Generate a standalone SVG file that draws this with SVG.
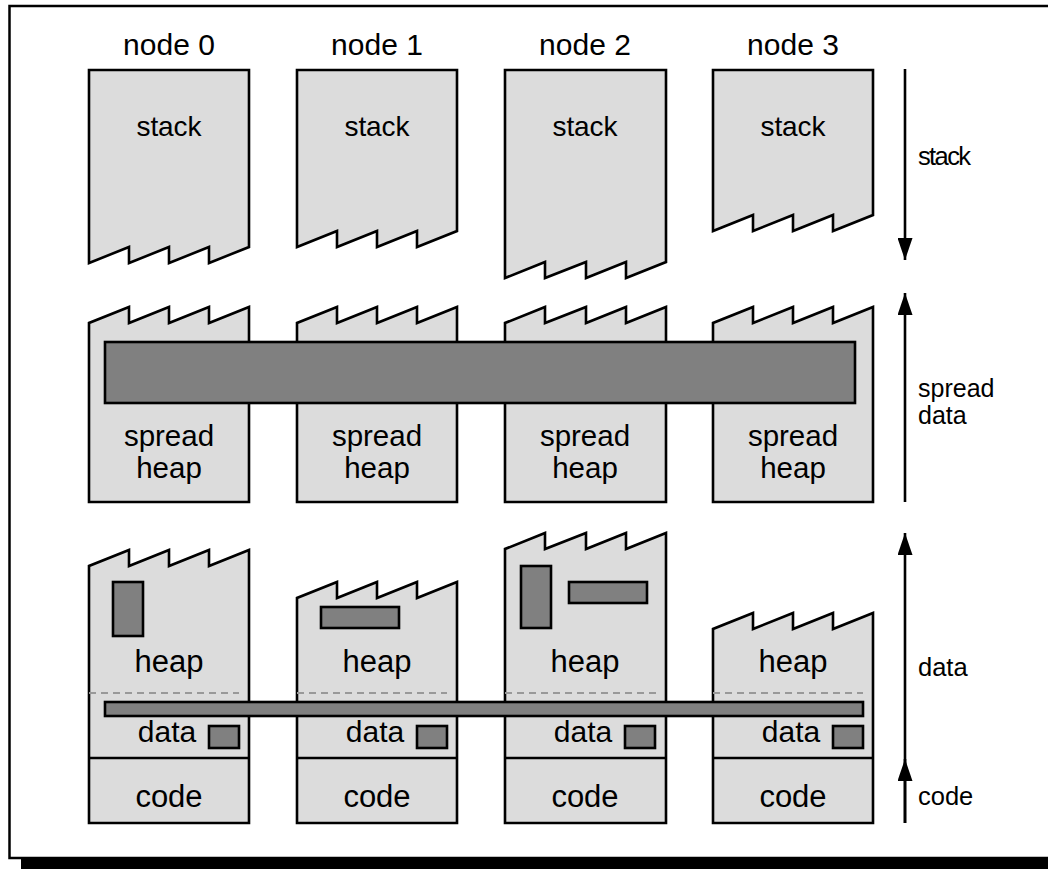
<svg xmlns="http://www.w3.org/2000/svg" width="1048" height="869" viewBox="0 0 1048 869">
  <style>
    .seg { fill: #dcdcdc; stroke: #000; stroke-width: 2.6; stroke-linejoin: miter; }
    .blk { fill: #808080; stroke: #000; stroke-width: 2.6; }
    .div { fill: none; stroke: #000; stroke-width: 2.6; }
    .dash { fill: none; stroke: #999; stroke-width: 2; stroke-dasharray: 7 5; }
    .t { font-family: "Liberation Sans", Arial, sans-serif; fill: #000; text-anchor: middle; }
    .big { font-size: 31px; }
    .mid { font-size: 30px; }
    .sh { font-size: 29.5px; }
    .head { font-size: 28px; }
    .side { font-family: "Liberation Sans", Arial, sans-serif; font-size: 25.5px; fill: #000; }
    .side2 { font-size: 25px; }
    .axis { stroke: #000; stroke-width: 2.6; fill: none; }
  </style>
  <defs>
    <marker id="tip" markerWidth="22" markerHeight="15" refX="22" refY="7.5" orient="auto" markerUnits="userSpaceOnUse" viewBox="0 0 22 15">
      <path d="M0,0 L22,7.5 L0,15 Z" fill="#000"/>
    </marker>
  </defs>

  <!-- page frame with drop shadow -->
  <rect x="21" y="859" width="1100" height="12" fill="#000"/>
  <rect x="9.5" y="6" width="1100" height="852" fill="#fff" stroke="#000" stroke-width="2.5"/>

  <!-- column headings -->
  <g id="headings">
    <text class="t mid" x="169" y="55">node 0</text>
    <text class="t mid" x="377" y="55">node 1</text>
    <text class="t mid" x="585" y="55">node 2</text>
    <text class="t mid" x="793" y="55">node 3</text>
  </g>

  <!-- stack segments: torn at the bottom, growing downwards -->
  <g id="stack0">
    <path class="seg" d="M89,70 H249 V247 L209,263 V247 L169,263 V247 L129,263 V247 L89,263 Z"/>
    <text class="t head" x="169" y="136" textLength="65">stack</text>
  </g>
  <g id="stack1">
    <path class="seg" d="M297,70 H457 V231 L417,247 V231 L377,247 V231 L337,247 V231 L297,247 Z"/>
    <text class="t head" x="377" y="136" textLength="65">stack</text>
  </g>
  <g id="stack2">
    <path class="seg" d="M505,70 H666 V262 L626,278 V262 L586,278 V262 L545,278 V262 L505,278 Z"/>
    <text class="t head" x="585" y="136" textLength="65">stack</text>
  </g>
  <g id="stack3">
    <path class="seg" d="M713,70 H873 V215 L833,231 V215 L793,231 V215 L753,231 V215 L713,231 Z"/>
    <text class="t head" x="793" y="136" textLength="65">stack</text>
  </g>

  <!-- spread heap segments: torn at the top -->
  <g id="spread0">
    <path class="seg" d="M89,502 V323 L129,307 V323 L169,307 V323 L209,307 V323 L249,307 V502 Z"/>
    <text class="t sh" x="169" y="446">spread</text>
    <text class="t sh" x="169" y="478">heap</text>
  </g>
  <g id="spread1">
    <path class="seg" d="M297,502 V323 L337,307 V323 L377,307 V323 L417,307 V323 L457,307 V502 Z"/>
    <text class="t sh" x="377" y="446">spread</text>
    <text class="t sh" x="377" y="478">heap</text>
  </g>
  <g id="spread2">
    <path class="seg" d="M505,502 V323 L545,307 V323 L586,307 V323 L626,307 V323 L666,307 V502 Z"/>
    <text class="t sh" x="585" y="446">spread</text>
    <text class="t sh" x="585" y="478">heap</text>
  </g>
  <g id="spread3">
    <path class="seg" d="M713,502 V323 L753,307 V323 L793,307 V323 L833,307 V323 L873,307 V502 Z"/>
    <text class="t sh" x="793" y="446">spread</text>
    <text class="t sh" x="793" y="478">heap</text>
  </g>
  <!-- object spanning all spread heaps -->
  <rect id="spread-object" class="blk" x="105" y="342" width="750" height="61"/>

  <!-- heap / data / code segments -->
  <g id="mem0">
    <path class="seg" d="M89,823 V566 L129,550 V566 L169,550 V566 L209,550 V566 L249,550 V823 Z"/>
    <line class="div" x1="89" y1="758" x2="249" y2="758"/>
    <line class="dash" x1="89" y1="693" x2="239" y2="693"/>
    <rect class="blk" x="113" y="582" width="30" height="54"/>
    <rect class="blk" x="209" y="726" width="30" height="22"/>
    <text class="t big" x="169" y="672">heap</text>
    <text class="t mid" x="167" y="742">data</text>
    <text class="t big" x="169" y="807">code</text>
  </g>
  <g id="mem1">
    <path class="seg" d="M297,823 V598 L337,582 V598 L377,582 V598 L417,582 V598 L457,582 V823 Z"/>
    <line class="div" x1="297" y1="758" x2="457" y2="758"/>
    <line class="dash" x1="297" y1="693" x2="447" y2="693"/>
    <rect class="blk" x="321" y="607" width="78" height="21"/>
    <rect class="blk" x="417" y="726" width="30" height="22"/>
    <text class="t big" x="377" y="672">heap</text>
    <text class="t mid" x="375" y="742">data</text>
    <text class="t big" x="377" y="807">code</text>
  </g>
  <g id="mem2">
    <path class="seg" d="M505,823 V549 L545,533 V549 L586,533 V549 L626,533 V549 L666,533 V823 Z"/>
    <line class="div" x1="505" y1="758" x2="666" y2="758"/>
    <line class="dash" x1="505" y1="693" x2="656" y2="693"/>
    <rect class="blk" x="521" y="566" width="30" height="62"/>
    <rect class="blk" x="569" y="582" width="78" height="21"/>
    <rect class="blk" x="625" y="726" width="30" height="22"/>
    <text class="t big" x="585" y="672">heap</text>
    <text class="t mid" x="583" y="742">data</text>
    <text class="t big" x="585" y="807">code</text>
  </g>
  <g id="mem3">
    <path class="seg" d="M713,823 V629 L753,613 V629 L793,613 V629 L833,613 V629 L873,613 V823 Z"/>
    <line class="div" x1="713" y1="758" x2="873" y2="758"/>
    <line class="dash" x1="713" y1="693" x2="863" y2="693"/>
    <rect class="blk" x="833" y="726" width="30" height="22"/>
    <text class="t big" x="793" y="672">heap</text>
    <text class="t mid" x="791" y="742">data</text>
    <text class="t big" x="793" y="807">code</text>
  </g>
  <!-- object spanning all data segments -->
  <rect id="data-object" class="blk" x="105" y="702" width="758" height="14"/>

  <!-- growth direction axes -->
  <g id="connectors">
    <line class="axis" x1="905" y1="69" x2="905" y2="260" marker-end="url(#tip)"/>
    <line class="axis" x1="905" y1="502" x2="905" y2="293" marker-end="url(#tip)"/>
    <line class="axis" x1="905" y1="823" x2="905" y2="533" marker-end="url(#tip)"/>
    <line class="axis" x1="905" y1="823" x2="905" y2="759" marker-end="url(#tip)"/>
  </g>

  <g id="axis-labels">
    <text class="side" x="918" y="165" textLength="53">stack</text>
    <text class="side side2" x="918" y="397">spread</text>
    <text class="side side2" x="918" y="424">data</text>
    <text class="side" x="918" y="676">data</text>
    <text class="side" x="918" y="805">code</text>
  </g>
</svg>
